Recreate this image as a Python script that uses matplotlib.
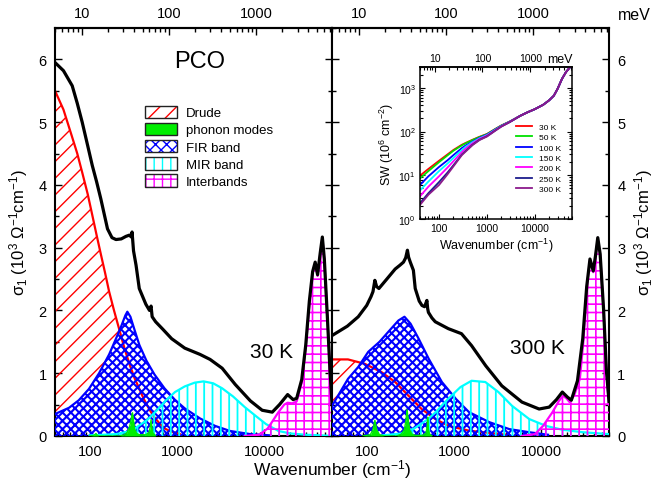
import numpy as np
import matplotlib
matplotlib.use('Agg')
import matplotlib.pyplot as plt
from matplotlib.patches import Patch
from matplotlib.ticker import LogLocator, NullFormatter

plt.rcParams['font.family'] = ['Liberation Sans', 'DejaVu Sans']
plt.rcParams['mathtext.fontset'] = 'custom'
plt.rcParams['mathtext.rm'] = 'Liberation Sans'
plt.rcParams['mathtext.it'] = 'Liberation Sans:italic'
plt.rcParams['mathtext.bf'] = 'Liberation Sans:bold'

# ---- 30 K panel (cm^-1, 10^3 Ohm^-1 cm^-1) ----
drude30_x = [40, 50, 62, 72, 82, 95, 107, 120, 134, 150, 167, 190, 218, 250, 285, 325, 371, 420, 485, 550, 632, 725, 825, 1080]
drude30_y = [5.5, 5.2, 4.79, 4.5, 4.2, 3.85, 3.52, 3.2, 2.9, 2.6, 2.3, 2.0, 1.7, 1.4, 1.15, 0.93, 0.75, 0.58, 0.42, 0.3, 0.2, 0.12, 0.08, 0.03]
fir30_x = [40, 58, 75, 98, 128, 167, 200, 230, 256, 270, 293, 325, 371, 447, 553, 720, 944, 1230, 1840, 2750, 4070, 6950, 11800]
fir30_y = [0.35, 0.45, 0.57, 0.75, 1.0, 1.3, 1.55, 1.75, 1.92, 1.98, 1.9, 1.7, 1.45, 1.2, 0.98, 0.76, 0.58, 0.44, 0.28, 0.16, 0.08, 0.03, 0.01]
mir30_x = [100, 200, 300, 460, 600, 740, 950, 1230, 1600, 2020, 2600, 3300, 4400, 6000, 8000, 10500, 14600, 20000, 30000, 45000, 60000]
mir30_y = [0.01, 0.03, 0.08, 0.26, 0.42, 0.56, 0.7, 0.79, 0.85, 0.87, 0.84, 0.76, 0.63, 0.46, 0.32, 0.19, 0.08, 0.04, 0.02, 0.01, 0.0]
inter30_x = [6000, 8800, 11000, 14600, 17000, 18600, 21000, 23600, 27000, 30000, 33000, 36000, 38500, 41000, 44000, 46500, 49000, 53000, 57000, 60000]
inter30_y = [0.0, 0.02, 0.12, 0.38, 0.5, 0.53, 0.52, 0.55, 0.85, 1.4, 2.1, 2.6, 2.75, 2.55, 2.9, 3.15, 2.8, 1.9, 1.0, 0.5]
phon30_x = [100, 112, 118, 122, 128, 140, 220, 250, 270, 285, 295, 302, 309, 316, 325, 345, 370, 440, 480, 495, 505, 515, 530, 570]
phon30_y = [0.0, 0.01, 0.04, 0.01, 0.0, 0.0, 0.0, 0.02, 0.06, 0.14, 0.22, 0.3, 0.37, 0.28, 0.12, 0.04, 0.02, 0.02, 0.06, 0.15, 0.26, 0.14, 0.05, 0.0]
total30_x = [40, 50, 63, 72, 82, 95, 107, 120, 134, 160, 180, 200, 230, 260, 285, 300, 306, 318, 340, 370, 440, 485, 505, 520, 570, 690, 870, 1230, 1840, 2400, 3300, 4670, 6950, 9500, 12400, 15000, 18600, 21500, 23600, 27000, 30000, 33000, 36000, 38500, 41000, 44000, 46500, 49000, 53000, 57000, 60000]
total30_y = [5.95, 5.82, 5.58, 5.3, 5.0, 4.62, 4.31, 4.05, 3.78, 3.3, 3.16, 3.13, 3.14, 3.18, 3.2, 3.17, 3.25, 2.95, 2.72, 2.35, 2.1, 2.0, 2.07, 1.9, 1.82, 1.7, 1.55, 1.4, 1.3, 1.22, 1.08, 0.82, 0.56, 0.41, 0.38, 0.5, 0.66, 0.58, 0.6, 0.9, 1.45, 2.15, 2.62, 2.77, 2.57, 2.92, 3.17, 2.82, 1.92, 1.02, 0.52]

# ---- 300 K panel ----
drude300_x = [40, 61, 95, 147, 212, 302, 426, 613, 870, 1490, 2500, 4000]
drude300_y = [1.22, 1.22, 1.15, 1.02, 0.86, 0.64, 0.43, 0.27, 0.16, 0.085, 0.05, 0.02]
fir300_x = [40, 61, 80, 104, 140, 177, 231, 271, 318, 394, 514, 728, 1055, 1490, 2550, 4310, 7300, 12000]
fir300_y = [0.48, 0.91, 1.1, 1.34, 1.5, 1.66, 1.84, 1.9, 1.79, 1.55, 1.23, 0.86, 0.59, 0.38, 0.22, 0.11, 0.06, 0.02]
mir300_x = [150, 250, 350, 507, 640, 790, 1000, 1190, 1593, 2290, 3240, 4640, 7300, 11400, 17500, 30000, 60000]
mir300_y = [0.01, 0.04, 0.12, 0.27, 0.4, 0.54, 0.68, 0.78, 0.88, 0.86, 0.7, 0.48, 0.27, 0.16, 0.1, 0.06, 0.03]
inter300_x = [6000, 8500, 10500, 13500, 16000, 17800, 19500, 21200, 24000, 27800, 30500, 33300, 36300, 39600, 42000, 44600, 47500, 52000, 56000, 60000]
inter300_y = [0.0, 0.03, 0.16, 0.38, 0.56, 0.64, 0.6, 0.54, 0.65, 0.91, 1.5, 2.35, 2.8, 2.61, 2.85, 3.14, 2.88, 2.0, 1.02, 0.5]
phon300_x = [90, 110, 118, 124, 130, 140, 160, 220, 250, 270, 282, 290, 298, 310, 330, 360, 440, 480, 493, 500, 508, 520, 560]
phon300_y = [0.0, 0.02, 0.1, 0.25, 0.1, 0.02, 0.0, 0.0, 0.03, 0.1, 0.25, 0.42, 0.28, 0.1, 0.03, 0.01, 0.01, 0.05, 0.15, 0.3, 0.13, 0.04, 0.0]
total300_x = [40, 60, 80, 100, 112, 118, 124, 130, 138, 170, 212, 240, 264, 280, 293, 302, 316, 343, 360, 400, 430, 460, 490, 500, 510, 560, 611, 863, 1221, 1593, 2313, 3539, 6030, 9480, 12370, 15000, 17500, 20000, 22200, 26100, 30000, 33300, 36300, 39600, 42000, 44600, 47500, 52000, 56000, 60000]
total300_y = [1.6, 1.75, 1.9, 2.08, 2.22, 2.3, 2.48, 2.38, 2.35, 2.5, 2.66, 2.72, 2.77, 2.84, 2.96, 2.85, 2.77, 2.64, 2.35, 2.15, 2.08, 2.06, 2.16, 2.03, 1.97, 1.88, 1.82, 1.71, 1.63, 1.44, 1.12, 0.8, 0.54, 0.43, 0.46, 0.58, 0.7, 0.62, 0.57, 0.88, 1.55, 2.38, 2.82, 2.63, 2.87, 3.16, 2.9, 2.02, 1.05, 0.55]

# ---- inset: spectral weight (10^6 cm^-2) ----
sw_x = [40, 60, 100, 150, 200, 300, 360, 500, 700, 1000, 1500, 2000, 3000, 5000, 7000, 10000, 15000, 20000, 25000, 30000, 37000, 45000, 55000, 60000]
sw_high = [230, 275, 325, 410, 520, 660, 950, 1600, 2300, 3000, 3200]
sw_temps = ['30 K', '50 K', '100 K', '150 K', '200 K', '250 K', '300 K']
sw_low = [
    [9.8, 14, 21.5, 30, 38, 50, 55, 65, 76, 88, 115, 138, 170],
    [8.5, 12.5, 20, 28.5, 36.5, 48.5, 54, 64, 75, 87, 114, 137, 169],
    [6.0, 9.5, 15.5, 22, 29, 42, 48, 59, 72, 85, 112, 135, 168],
    [4.5, 7.2, 12.5, 18.5, 25, 38, 45, 57, 70, 83, 110, 134, 167],
    [3.3, 5.5, 9.5, 15, 21, 34, 41, 54, 68, 81, 108, 132, 166],
    [2.3, 3.9, 7.0, 11.5, 17, 30, 36, 50, 65, 78, 106, 131, 165],
    [2.1, 3.6, 6.0, 10.5, 16, 29, 35, 49, 64, 77, 105, 130, 165],
]
sw_colors = ['#ff0000', '#00e000', '#0000ff', '#00ffff', '#ff00ff', '#1c1c8c', '#8b1a8b']

CM_PER_MEV = 8.0655
W_LO, W_HI = 40, 60000

C_DRUDE, C_PHON, C_FIR, C_MIR, C_INTER = '#ff0000', '#00ee00', '#0000ff', '#00ffff', '#ff00ff'
H_DRUDE, H_FIR, H_MIR, H_INTER = '//', 'xxxx', '||', '++'


def to_mev(x):
    return np.asarray(x, dtype=float) / CM_PER_MEV


def to_cm(x):
    return np.asarray(x, dtype=float) * CM_PER_MEV


def hatched(ax, x, y, color, hatch, hlw, z):
    with plt.rc_context({'hatch.linewidth': hlw}):
        ax.fill_between(x, 0, y, facecolor='none', edgecolor=color, hatch=hatch,
                        linewidth=0, zorder=z)
    ax.plot(x, y, color=color, lw=1.6, zorder=z + 0.5)


def draw_panel(ax, drude, fir, mir, inter, phon, total):
    hatched(ax, *drude, C_DRUDE, H_DRUDE, 1.0, 2)
    hatched(ax, *fir, C_FIR, H_FIR, 1.5, 3)
    hatched(ax, *mir, C_MIR, H_MIR, 1.3, 4)
    hatched(ax, *inter, C_INTER, H_INTER, 1.2, 5)
    ax.fill_between(phon[0], 0, phon[1], color=C_PHON, lw=0, zorder=6)
    ax.plot(phon[0], phon[1], color=C_PHON, lw=1.0, zorder=6.5)
    ax.plot(total[0], total[1], color='black', lw=2.3, zorder=8)


def style_main(ax):
    ax.set_xscale('log')
    ax.set_xlim(W_LO, W_HI)
    ax.set_ylim(0, 6.5)
    ax.set_xticks([100, 1000, 10000], labels=['100', '1000', '10000'])
    ax.xaxis.set_minor_locator(LogLocator(subs=np.arange(2, 10)))
    ax.xaxis.set_minor_formatter(NullFormatter())
    ax.set_yticks(range(7))
    ax.set_yticks(np.arange(0, 6.6, 0.5), minor=True)
    ax.tick_params(which='both', direction='in', top=False, left=True, right=True,
                   labelsize=10.5, width=1)
    ax.tick_params(which='major', length=5, pad=6)
    ax.tick_params(which='minor', length=3)
    for s in ax.spines.values():
        s.set_linewidth(1.5)
    sec = ax.secondary_xaxis('top', functions=(to_mev, to_cm))
    sec.set_xticks([10, 100, 1000], labels=['10', '100', '1000'])
    sec.xaxis.set_minor_locator(LogLocator(subs=np.arange(2, 10)))
    sec.xaxis.set_minor_formatter(NullFormatter())
    sec.tick_params(which='both', direction='in', labelsize=10.5, width=1)
    sec.tick_params(which='major', length=5, pad=6)
    sec.tick_params(which='minor', length=3)
    sec.spines['top'].set_linewidth(1.5)


fig = plt.figure(figsize=(6.58, 4.89), dpi=100)
ax1 = fig.add_axes([55 / 658, 52 / 489, 277 / 658, 408 / 489])
ax2 = fig.add_axes([332 / 658, 52 / 489, 277 / 658, 408 / 489])

draw_panel(ax1, (drude30_x, drude30_y), (fir30_x, fir30_y), (mir30_x, mir30_y),
           (inter30_x, inter30_y), (phon30_x, phon30_y), (total30_x, total30_y))
draw_panel(ax2, (drude300_x, drude300_y), (fir300_x, fir300_y), (mir300_x, mir300_y),
           (inter300_x, inter300_y), (phon300_x, phon300_y), (total300_x, total300_y))

style_main(ax1)
style_main(ax2)
ax2.tick_params(labelleft=False, labelright=True)

ylab = 'σ$_1$ (10$^3$ Ω$^{-1}$cm$^{-1}$)'
ax1.set_ylabel(ylab, fontsize=12)
ax1.yaxis.set_label_coords(-0.09, 0.5)
ax2.set_ylabel(ylab, fontsize=12, rotation=90)
ax2.yaxis.set_label_position('right')
ax2.yaxis.set_label_coords(1.083, 0.5)

fig.text(0.5046, 0.039, 'Wavenumber (cm$^{-1}$)', ha='center', va='center', fontsize=12.5)
fig.text(0.964, 0.968, 'meV', ha='center', va='center', fontsize=11.5)

ax1.text(0.523, 0.919, 'PCO', transform=ax1.transAxes, ha='center', va='center', fontsize=17)
ax1.text(0.783, 0.206, '30 K', transform=ax1.transAxes, ha='center', va='center', fontsize=15)
ax2.text(0.74, 0.216, '300 K', transform=ax2.transAxes, ha='center', va='center', fontsize=15)


# legend with coloured hatch inside a dark frame
def box(color, hatch, hlw):
    with plt.rc_context({'hatch.linewidth': hlw}):
        inner = Patch(facecolor='none', edgecolor=color, hatch=hatch, lw=0)
    return (inner, Patch(facecolor='none', edgecolor='#222222', lw=1.0))


handles = [box(C_DRUDE, H_DRUDE, 1.0),
           (Patch(facecolor=C_PHON, edgecolor='#222222', lw=1.0),),
           box(C_FIR, 'xxx', 1.5),
           box(C_MIR, H_MIR, 1.3),
           box(C_INTER, H_INTER, 1.2)]
labels = ['Drude', 'phonon modes', 'FIR band', 'MIR band', 'Interbands']
ax1.legend(handles, labels, loc='upper left', bbox_to_anchor=(0.325, 0.81),
           frameon=False, fontsize=9.5, handlelength=2.4, handleheight=1.1,
           handletextpad=0.7, labelspacing=0.25, borderpad=0, borderaxespad=0)

# ---- inset ----
axi = fig.add_axes([420 / 658, 1 - 220 / 489, 152 / 658, 152 / 489])
for lab, low, col in zip(sw_temps, sw_low, sw_colors):
    axi.plot(sw_x, low + sw_high, color=col, lw=1.3, label=lab)
axi.set_xscale('log')
axi.set_yscale('log')
axi.set_xlim(W_LO, W_HI)
axi.set_ylim(1, 3000)
axi.set_xticks([100, 1000, 10000], labels=['100', '1000', '10000'])
axi.xaxis.set_minor_locator(LogLocator(subs=np.arange(2, 10)))
axi.xaxis.set_minor_formatter(NullFormatter())
axi.yaxis.set_minor_locator(LogLocator(subs=np.arange(2, 10)))
axi.yaxis.set_minor_formatter(NullFormatter())
axi.tick_params(which='both', direction='in', labelsize=7.5, width=0.8, right=True, top=False)
axi.tick_params(which='major', length=3.5, pad=3)
axi.tick_params(which='minor', length=2)
for s in axi.spines.values():
    s.set_linewidth(1.1)
axi.set_xlabel('Wavenumber (cm$^{-1}$)', fontsize=9, labelpad=2)
axi.set_ylabel('SW (10$^6$ cm$^{-2}$)', fontsize=9, labelpad=2)
seci = axi.secondary_xaxis('top', functions=(to_mev, to_cm))
seci.set_xticks([10, 100, 1000], labels=['10', '100', '1000'])
seci.xaxis.set_minor_locator(LogLocator(subs=np.arange(2, 10)))
seci.xaxis.set_minor_formatter(NullFormatter())
seci.tick_params(which='both', direction='in', labelsize=7.5, width=0.8, pad=3)
seci.tick_params(which='major', length=3.5)
seci.tick_params(which='minor', length=2)
seci.spines['top'].set_linewidth(1.1)
fig.text(560 / 658, 1 - 60 / 489, 'meV', ha='center', va='center', fontsize=9)
axi.legend(loc='upper left', bbox_to_anchor=(0.63, 0.63), frameon=False, fontsize=6,
           handlelength=2.0, handletextpad=0.8, labelspacing=0.3, borderpad=0,
           borderaxespad=0)

fig.savefig('out.png', dpi=100)
